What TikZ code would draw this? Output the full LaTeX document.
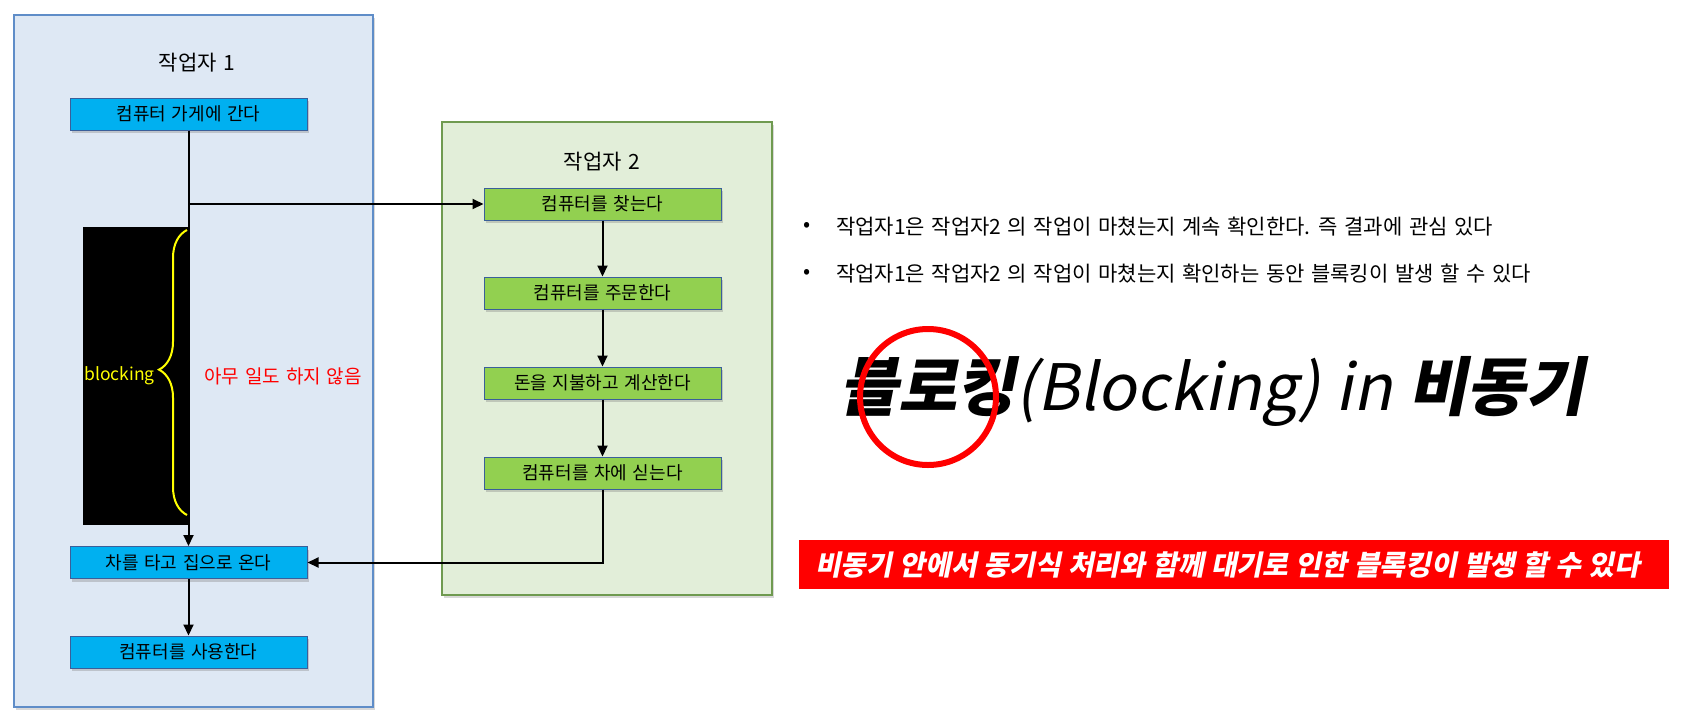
\documentclass[tikz,border=0pt]{standalone}
\usepackage{fontspec}
\setmainfont{Noto Sans CJK KR}[WordSpace=1.4]
\newfontfamily\slantfont{Noto Sans CJK KR}[FakeSlant=0.2, WordSpace=1.3]
\newfontfamily\titlefont{Noto Sans CJK KR}[FakeSlant=0.2, WordSpace=1.1]
\usetikzlibrary{arrows.meta,shadows,decorations.pathreplacing,calc}
\definecolor{panelblue}{HTML}{DEE8F4}
\definecolor{panelblueline}{HTML}{5F8DC8}
\definecolor{panelgreen}{HTML}{E2EED9}
\definecolor{panelgreenline}{HTML}{6F9A50}
\definecolor{stepblue}{HTML}{00B0F0}
\definecolor{stepgreen}{HTML}{92D050}
\definecolor{stepline}{HTML}{3A5F9A}
\definecolor{alertred}{HTML}{FF0000}
\definecolor{braceyellow}{HTML}{FFFF00}
\begin{document}
\begin{tikzpicture}[x=1pt,y=-1pt,
  panel/.style={draw, line width=1.2pt, inner sep=0,
    drop shadow={shadow xshift=2pt,shadow yshift=-3pt,opacity=0.3}},
  stepbox/.style={draw=stepline, line width=1pt, minimum width=237pt,
    minimum height=32pt, inner sep=0, font=\fontsize{18}{20}\selectfont,
    drop shadow={shadow xshift=2pt,shadow yshift=-3pt,opacity=0.35}},
  conn/.style={line width=2pt, -{Triangle[length=11pt,width=10pt]}},
  titletext/.style={font=\fontsize{21}{23}\selectfont},
  bullettext/.style={font=\fontsize{21}{23}\selectfont, anchor=west, inner sep=0},
]
\useasboundingbox (0,0) rectangle (1681,718);
\fill[white] (0,0) rectangle (1681,718);

% panels
\node[panel, draw=panelblueline, fill=panelblue, minimum width=359pt, minimum height=692pt] (p1) at (193.5,361) {};
\node[panel, draw=panelgreenline, fill=panelgreen, minimum width=330pt, minimum height=473pt] (p2) at (607,358.5) {};
\node[titletext] (t1) at (197,63) {작업자 1};
\node[titletext] (t2) at (602,162) {작업자 2};

% black blocking area
\node[fill=black, minimum width=106pt, minimum height=298pt, inner sep=0] (blk) at (136,376) {};

% steps
\node[stepbox, fill=stepblue] (a1) at (188.5,114) {컴퓨터 가게에 간다};
\node[stepbox, fill=stepblue] (a2) at (188.5,562.5) {차를 타고 집으로 온다};
\node[stepbox, fill=stepblue] (a3) at (188.5,652) {컴퓨터를 사용한다};
\node[stepbox, fill=stepgreen] (g1) at (602.5,204) {컴퓨터를 찾는다};
\node[stepbox, fill=stepgreen] (g2) at (602.5,293) {컴퓨터를 주문한다};
\node[stepbox, fill=stepgreen] (g3) at (602.5,383) {돈을 지불하고 계산한다};
\node[stepbox, fill=stepgreen] (g4) at (602.5,473) {컴퓨터를 차에 싣는다};

\coordinate (br) at (a1.south |- g1.west);
\coordinate (bb) at (187,515);
\coordinate (bt) at (187,230);

% connectors
\draw[conn] (a1.south) -- (a2.north);
\draw[conn] (br) -- (g1.west);
\draw[conn] (g1) -- (g2);
\draw[conn] (g2) -- (g3);
\draw[conn] (g3) -- (g4);
\draw[conn] (g4.south) |- (a2.east);
\draw[conn] (a2) -- (a3);

% brace
\draw[braceyellow, line width=2pt, decorate, decoration={brace, amplitude=28pt, aspect=0.51}] (bb) -- (bt);
\node[text=braceyellow, anchor=east, inner sep=0, font=\fontsize{17.5}{19}\selectfont] (blab) at (155,376) {blocking};
\node[text=alertred, anchor=west, inner sep=0, font=\fontsize{19}{21}\selectfont] (idle) at (204,376) {아무 일도 하지 않음};

% bullets
\node[bullettext] (b1d) at (803,227) {•};
\node[bullettext] (b1) at (836,227) {작업자1은 작업자2 의 작업이 마쳤는지 계속 확인한다. 즉 결과에 관심 있다};
\node[bullettext] (b2d) at (803,274) {•};
\node[bullettext] (b2) at (836,274) {작업자1은 작업자2 의 작업이 마쳤는지 확인하는 동안 블록킹이 발생 할 수 있다};

% big title
\node[anchor=west, inner sep=0, font=\fontsize{64}{70}\selectfont\titlefont] (big) at (839,391)
  {{\bfseries 블로킹}(Blocking) in {\bfseries 비동기}};
\node[draw=alertred, line width=6pt, circle, minimum size=136pt, inner sep=0] (ring) at (928,397) {};

% banner
\node[fill=alertred, anchor=west, inner xsep=16pt, inner ysep=0, minimum height=49pt,
  text=white, font=\fontsize{28}{30}\selectfont\slantfont\bfseries] (ban) at (799,564.5)
  {\makebox[838pt][l]{비동기 안에서 동기식 처리와 함께 대기로 인한 블록킹이 발생 할 수 있다}};
\end{tikzpicture}
\end{document}
